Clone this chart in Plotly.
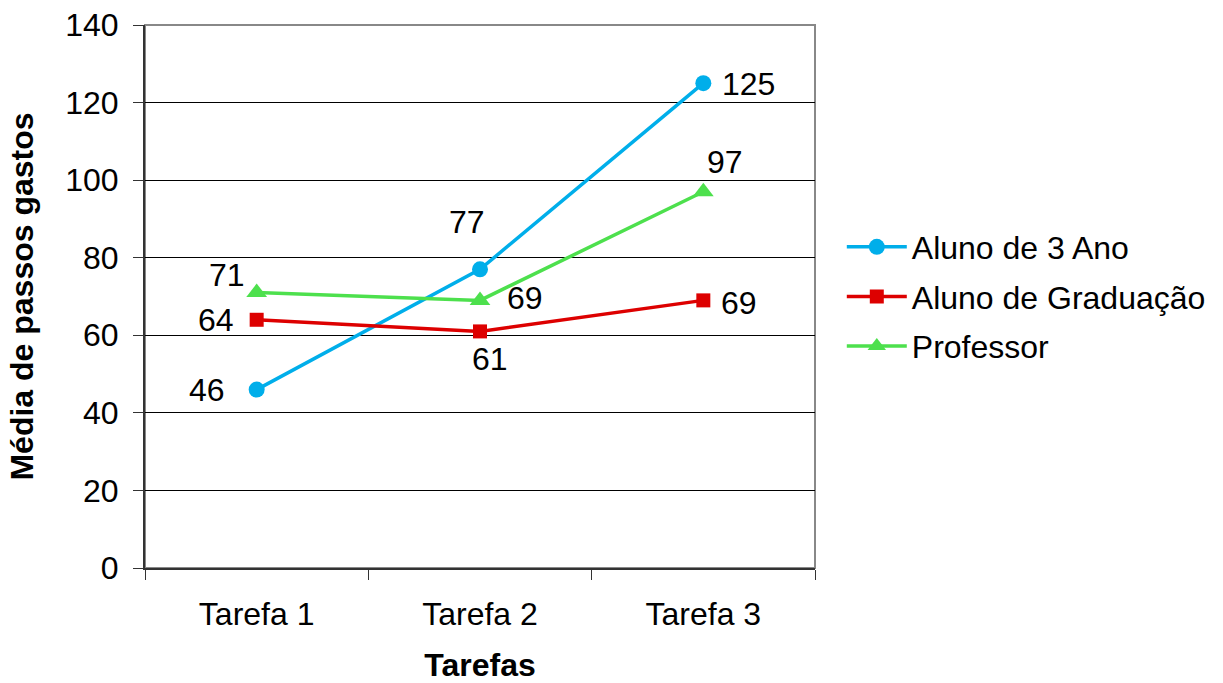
import plotly.graph_objects as go

# Chart data
tarefas = ["Tarefa 1", "Tarefa 2", "Tarefa 3"]
aluno_3_ano = [46, 77, 125]
aluno_graduacao = [64, 61, 69]
professor = [71, 69, 97]
y_ticks = [0, 20, 40, 60, 80, 100, 120, 140]

FONT = "Liberation Sans, Arial, sans-serif"
FS = 32

series = [
    ("Aluno de 3 Ano", aluno_3_ano, "#00AEEA", "circle", 16),
    ("Aluno de Graduação", aluno_graduacao, "#DD0000", "square", 14),
    ("Professor", professor, "#4DE04D", "triangle-up", 18),
]

# pixel offsets of each value label relative to its point
label_offsets = {
    "Aluno de 3 Ano": [(-50, 0), (-13, 47), (45, -1)],
    "Aluno de Graduação": [(-41, 0), (10, -28), (36, -3)],
    "Professor": [(-30, 18), (45, 2), (22, 30)],
}

fig = go.Figure()
for i, (name, vals, color, symbol, msize) in enumerate(series):
    fig.add_trace(go.Scatter(
        x=tarefas, y=vals, name=name, mode="lines+markers",
        line=dict(color=color, width=3.5),
        marker=dict(symbol=symbol, size=msize, color=color),
        legendgroup=f"g{i}",
    ))
    for xv, yv, (dx, dy) in zip(tarefas, vals, label_offsets[name]):
        fig.add_annotation(
            x=xv, y=yv, text=str(yv), showarrow=False,
            xshift=dx, yshift=dy,
            font=dict(family=FONT, size=FS, color="black"),
        )

fig.update_layout(
    width=1223, height=683,
    margin=dict(l=145, r=408, t=25, b=115),
    paper_bgcolor="white", plot_bgcolor="white",
    font=dict(family=FONT, size=FS, color="black"),
    showlegend=True,
    legend=dict(
        x=1.04, y=0.5, xanchor="left", yanchor="middle",
        font=dict(family=FONT, size=FS, color="black"),
        traceorder="grouped", tracegroupgap=5,
        itemwidth=60,
        bgcolor="rgba(0,0,0,0)",
    ),
    shapes=[dict(
        type="rect", xref="paper", yref="paper", x0=0, y0=0, x1=1, y1=1,
        line=dict(color="#888888", width=2), layer="below",
    )],
)

fig.update_xaxes(
    type="category", tickson="boundaries",
    range=[-0.5, 2.5], automargin=False,
    showgrid=False, zeroline=False,
    showline=True, linecolor="#333333", linewidth=2,
    ticks="outside", ticklen=10, tickcolor="#333333", tickwidth=1,
    tickfont=dict(family=FONT, size=FS, color="black"),
    ticklabelstandoff=17,
    title=dict(text="<b>Tarefas</b>", font=dict(family=FONT, size=32, color="black"), standoff=26),
)

fig.update_yaxes(
    range=[0, 140], tickvals=y_ticks, automargin=False,
    showgrid=True, gridcolor="black", gridwidth=1,
    zeroline=False,
    showline=True, linecolor="#333333", linewidth=2,
    ticks="outside", ticklen=10, tickcolor="#333333", tickwidth=1,
    tickfont=dict(family=FONT, size=FS, color="black"),
    ticklabelstandoff=8,
    title=dict(text="<b>Média de passos gastos</b>", font=dict(family=FONT, size=32, color="black"), standoff=22),
)

fig.write_html("out.html")
